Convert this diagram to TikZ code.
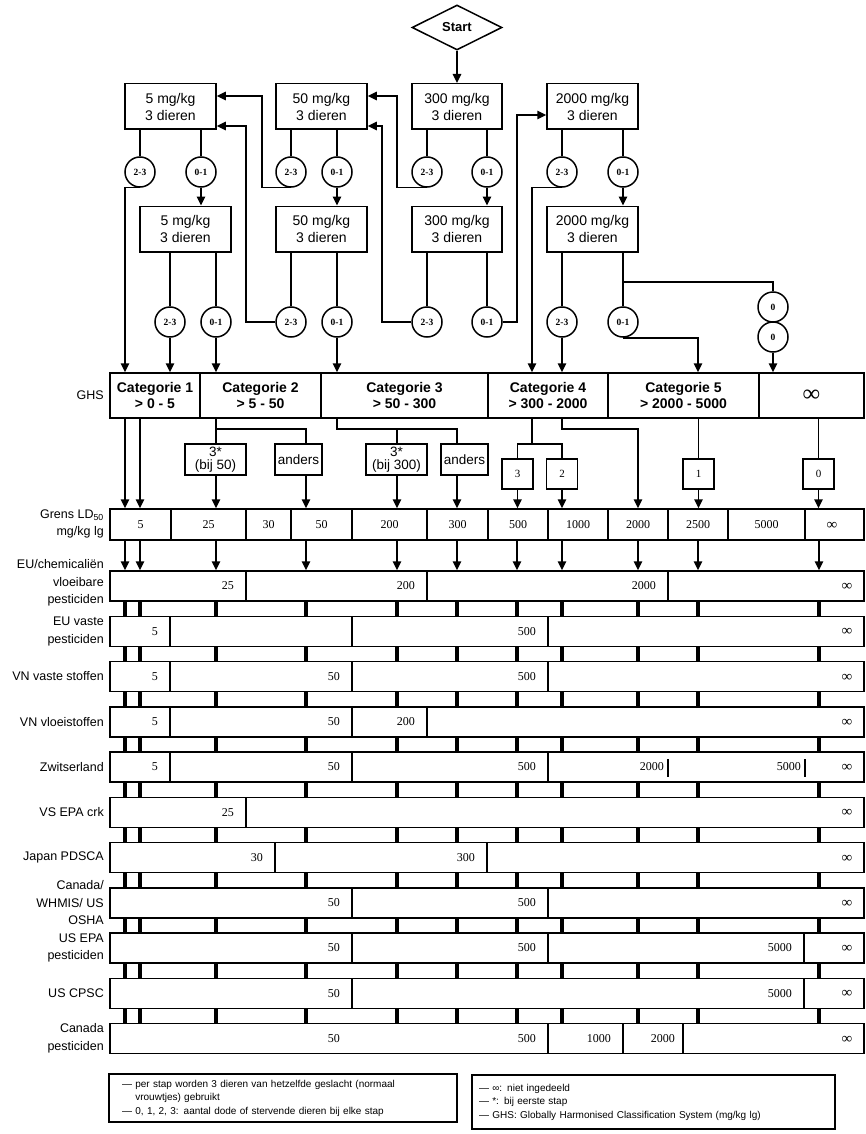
\documentclass[tikz,border=0pt]{standalone}
\usepackage{fontspec}
\setmainfont{Liberation Sans}
\newfontfamily\numfont{Liberation Serif}
\usetikzlibrary{arrows.meta,shapes.geometric}
\tikzset{
  ln/.style={line width=1.5pt},
  arr/.style={line width=1.5pt,-{Triangle[length=9pt,width=8.5pt]}},
  stepbox/.style={draw,line width=1.5pt,inner sep=0pt,align=center,minimum width=91pt,minimum height=45.5pt,font=\fontsize{14}{17}\selectfont},
  cnt/.style={draw,circle,line width=1.5pt,minimum size=30pt,inner sep=0pt,font=\numfont\bfseries\fontsize{9.5}{10}\selectfont},
  cat/.style={draw,line width=1.5pt,minimum height=45pt,inner sep=0pt,align=center,font=\bfseries\fontsize{14}{16.5}\selectfont},
  dbox/.style={draw,line width=1.5pt,minimum width=31pt,minimum height=30pt,inner sep=0pt,font=\numfont\fontsize{11}{11}\selectfont},
  qbox/.style={draw,line width=1.5pt,minimum height=31pt,inner sep=0pt,align=center,font=\fontsize{13.5}{13}\selectfont},
  lbl/.style={anchor=east,align=right,inner sep=0pt,font=\fontsize{12.5}{17.5}\selectfont},
  rowbox/.style={draw,line width=1.5pt,minimum width=754pt,minimum height=30pt,inner sep=0pt},
  nmb/.style={anchor=east,inner sep=0pt,font=\numfont\fontsize{12}{12}\selectfont},
  gnum/.style={inner sep=0pt,font=\numfont\fontsize{12}{12}\selectfont},
  inf/.style={inner sep=0pt,font=\numfont\fontsize{15}{15}\selectfont},
  rtick/.style={line width=3.8pt},
  legbox/.style={draw,line width=1.5pt,inner ysep=0pt,align=left,font=\fontsize{10}{13.5}\selectfont},
}
\newcommand\mkrow[4]{\node[rowbox] (#1) at (487,#2) {};\node[lbl] (#1l) at (104,#3) {#4};}
\newcommand\dvd[2]{\draw[ln] (#2,#1-15) -- (#2,#1+15);}
\newcommand\nm[4]{\node[nmb] (#1) at (#3-12,#2) {#4};}
\newcommand\infn[2]{\node[inf] (#1) at (847,#2) {∞};}
\begin{document}
\begin{tikzpicture}[x=1pt,y=-1pt]
\useasboundingbox (0,0) rectangle (866,1134);
\fill[white] (0,0) rectangle (866,1134);
\foreach \x in {125,140,170,216,246,262,306,337,382,397,457,517,532,562,623,638,698,773,819}
  \coordinate (x\x) at (\x,0);
\foreach \y in {96,115,126,282,429,444}
  \coordinate (y\y) at (0,\y);

% ---------- dose-step flow ----------
\node[draw,diamond,aspect=2,minimum width=90pt,minimum height=45pt,inner sep=0pt,line width=1.5pt,font=\bfseries\fontsize{13}{13}\selectfont] (start) at (457,27.5) {Start};

\node[stepbox] (A5) at (170.5,106.5) {5 mg/kg\\3 dieren};
\node[stepbox] (A50) at (321.5,106.5) {50 mg/kg\\3 dieren};
\node[stepbox,minimum width=90pt] (A300) at (457,106.5) {300 mg/kg\\3 dieren};
\node[stepbox] (A2000) at (592.5,106.5) {2000 mg/kg\\3 dieren};

\node[stepbox] (B5) at (185.5,229) {5 mg/kg\\3 dieren};
\node[stepbox] (B50) at (321.5,229) {50 mg/kg\\3 dieren};
\node[stepbox,minimum width=90pt] (B300) at (457,229) {300 mg/kg\\3 dieren};
\node[stepbox] (B2000) at (592.5,229) {2000 mg/kg\\3 dieren};

\node[cnt] (a5x) at (140,172) {2-3};
\node[cnt] (a5y) at (201,172) {0-1};
\node[cnt] (a50x) at (291,172) {2-3};
\node[cnt] (a50y) at (337,172) {0-1};
\node[cnt] (a300x) at (427,172) {2-3};
\node[cnt] (a300y) at (487,172) {0-1};
\node[cnt] (a2000x) at (562,172) {2-3};
\node[cnt] (a2000y) at (623,172) {0-1};

\node[cnt] (b5x) at (170,322) {2-3};
\node[cnt] (b5y) at (216,322) {0-1};
\node[cnt] (b50x) at (291,322) {2-3};
\node[cnt] (b50y) at (337,322) {0-1};
\node[cnt] (b300x) at (427,322) {2-3};
\node[cnt] (b300y) at (487,322) {0-1};
\node[cnt] (b2000x) at (562,322) {2-3};
\node[cnt] (b2000y) at (623,322) {0-1};
\node[cnt] (z1) at (773,307) {0};
\node[cnt] (z2) at (773,337) {0};

\draw[arr] (start.south) -- (A300.north);
\foreach \b/\c in {A5/a5x,A5/a5y,A50/a50x,A50/a50y,A300/a300x,A300/a300y,A2000/a2000x,A2000/a2000y,
                   B5/b5x,B5/b5y,B50/b50x,B50/b50y,B300/b300x,B300/b300y,B2000/b2000x,B2000/b2000y}
  \draw[ln] (\b.south -| \c) -- (\c.north);
\draw[arr] (a5y.south) -- (B5.north -| a5y);
\draw[arr] (a50y.south) -- (B50.north -| a50y);
\draw[arr] (a300y.south) -- (B300.north -| a300y);
\draw[arr] (a2000y.south) -- (B2000.north -| a2000y);

\draw[arr] (a50x.south) -| (x262 |- y96) -- (A5.east |- y96);
\draw[arr] (a300x.south) -| (x397 |- y96) -- (A50.east |- y96);
\draw[arr] (b50x.west) -| (x246 |- y126) -- (A5.east |- y126);
\draw[arr] (b300x.west) -| (x382 |- y126) -- (A50.east |- y126);
\draw[arr] (b300y.east) -| (x517 |- y115) -- (A2000.west |- y115);
\draw[ln] (x623 |- y282) -| (z1.north);

% ---------- GHS row ----------
\node[cat,minimum width=90pt] (G1) at (155,395.5) {Categorie 1\\> 0 - 5};
\node[cat,minimum width=121pt] (G2) at (260.5,395.5) {Categorie 2\\> 5 - 50};
\node[cat,minimum width=167pt] (G3) at (404.5,395.5) {Categorie 3\\> 50 - 300};
\node[cat,minimum width=120pt] (G4) at (548,395.5) {Categorie 4\\> 300 - 2000};
\node[cat,minimum width=151pt] (G5) at (683.5,395.5) {Categorie 5\\> 2000 - 5000};
\node[cat,minimum width=105pt,font=\numfont\bfseries\fontsize{24}{24}\selectfont] (G6) at (811.5,395.5) {∞};
\node[lbl] (ghsl) at (104,395) {GHS};

\draw[arr] (a5x.south) -| (G1.north -| x125);
\draw[arr] (b5x.south) -- (G1.north -| b5x);
\draw[arr] (b5y.south) -- (G2.north -| b5y);
\draw[arr] (b50y.south) -- (G3.north -| b50y);
\draw[arr] (a2000x.south) -| (G4.north -| x532);
\draw[arr] (b2000x.south) -- (G4.north -| b2000x);
\draw[arr] (b2000y.south) -| (G5.north -| x698);
\draw[arr] (z2.south) -- (G6.north -| z2);

% ---------- intermediate boxes ----------
\node[qbox,minimum width=61pt] (Q1) at (215.5,459.5) {3*\\(bij 50)};
\node[qbox,minimum width=47pt] (N1) at (298.5,459.5) {anders};
\node[qbox,minimum width=61pt] (Q2) at (396.5,459.5) {3*\\(bij 300)};
\node[qbox,minimum width=47pt] (N2) at (464.5,459.5) {anders};
\node[dbox] (S3) at (517.5,474) {3};
\node[dbox] (S2) at (562,474) {2};
\node[dbox] (S1) at (698.5,474) {1};
\node[dbox] (S0) at (818.5,474) {0};

% ---------- Grens row ----------
\node[rowbox,minimum height=31pt] (grens) at (487,524.5) {};
\foreach \x in {171,246,291,352,427,488,548,608,668,728,805}
  \draw[ln] (\x,509) -- (\x,540);
\node[gnum] (g1) at (140.5,524.5) {5};
\node[gnum] (g2) at (208.5,524.5) {25};
\node[gnum] (g3) at (268.5,524.5) {30};
\node[gnum] (g4) at (321.5,524.5) {50};
\node[gnum] (g5) at (389.5,524.5) {200};
\node[gnum] (g6) at (457.5,524.5) {300};
\node[gnum] (g7) at (518,524.5) {500};
\node[gnum] (g8) at (578,524.5) {1000};
\node[gnum] (g9) at (638,524.5) {2000};
\node[gnum] (g10) at (698,524.5) {2500};
\node[gnum] (g11) at (766.5,524.5) {5000};
\node[inf] (g12) at (832,526) {∞};
\node[lbl] (grensl) at (104,524) {Grens LD\textsubscript{50}\\mg/kg lg};

\draw[arr] (G1.south -| x125) -- (grens.north -| x125);
\draw[arr] (G1.south -| x140) -- (grens.north -| x140);
\draw[ln] (G2.south -| x216) -- (Q1.north -| x216);
\draw[ln] (x216 |- y429) -| (N1.north -| x306);
\draw[arr] (Q1.south -| x216) -- (grens.north -| x216);
\draw[arr] (N1.south -| x306) -- (grens.north -| x306);
\draw[ln] (G3.south -| x337) |- (x457 |- y429) -- (N2.north -| x457);
\draw[ln] (x397 |- y429) -- (Q2.north -| x397);
\draw[arr] (Q2.south -| x397) -- (grens.north -| x397);
\draw[arr] (N2.south -| x457) -- (grens.north -| x457);
\draw[ln] (G4.south -| x532) -- (x532 |- y444);
\draw[ln] (S3.north) |- (x532 |- y444) -| (S2.north);
\draw[arr] (S3.south) -- (grens.north -| S3);
\draw[arr] (S2.south) -- (grens.north -| S2);
\draw[arr] (G4.south -| x562) |- (x638 |- y429) -- (grens.north -| x638);
\draw[ln] (G5.south -| S1) -- (S1.north);
\draw[arr] (S1.south) -- (grens.north -| S1);
\draw[ln] (G6.south -| S0) -- (S0.north);
\draw[arr] (S0.south) -- (grens.north -| S0);

% ---------- regulation rows ----------
\mkrow{r1}{586}{583}{EU/chemicaliën\\vloeibare\\pesticiden}
\dvd{586}{246}\dvd{586}{427}\dvd{586}{668}
\nm{r1a}{586}{246}{25}\nm{r1b}{586}{427}{200}\nm{r1c}{586}{668}{2000}\infn{r1i}{587}

\mkrow{r2}{631.25}{631.25}{EU vaste\\pesticiden}
\dvd{631.25}{170}\dvd{631.25}{352}\dvd{631.25}{548}
\nm{r2a}{631.25}{170}{5}\nm{r2b}{631.25}{548}{500}\infn{r2i}{632.25}

\mkrow{r3}{676.5}{676.5}{VN vaste stoffen}
\dvd{676.5}{170}\dvd{676.5}{352}\dvd{676.5}{548}
\nm{r3a}{676.5}{170}{5}\nm{r3b}{676.5}{352}{50}\nm{r3c}{676.5}{548}{500}\infn{r3i}{677.5}

\mkrow{r4}{721.75}{721.75}{VN vloeistoffen}
\dvd{721.75}{170}\dvd{721.75}{352}\dvd{721.75}{427}
\nm{r4a}{721.75}{170}{5}\nm{r4b}{721.75}{352}{50}\nm{r4c}{721.75}{427}{200}\infn{r4i}{722.75}

\mkrow{r5}{767}{767}{Zwitserland}
\dvd{767}{170}\dvd{767}{352}\dvd{767}{548}
\draw[ln] (668,759) -- (668,777);
\draw[ln] (805,759) -- (805,777);
\nm{r5a}{767}{170}{5}\nm{r5b}{767}{352}{50}\nm{r5c}{767}{548}{500}
\nm{r5d}{767}{676}{2000}\nm{r5e}{767}{813}{5000}\infn{r5i}{768}

\mkrow{r6}{812.25}{812.25}{VS EPA crk}
\dvd{812.25}{246}
\nm{r6a}{812.25}{246}{25}\infn{r6i}{813.25}

\mkrow{r7}{857.5}{857.5}{Japan PDSCA}
\dvd{857.5}{275}\dvd{857.5}{487}
\nm{r7a}{857.5}{275}{30}\nm{r7b}{857.5}{487}{300}\infn{r7i}{858.5}

\mkrow{r8}{902.75}{902.75}{Canada/\\WHMIS/ US\\OSHA}
\dvd{902.75}{352}\dvd{902.75}{548}
\nm{r8a}{902.75}{352}{50}\nm{r8b}{902.75}{548}{500}\infn{r8i}{903.75}

\mkrow{r9}{948}{948}{US EPA\\pesticiden}
\dvd{948}{352}\dvd{948}{548}\dvd{948}{804}
\nm{r9a}{948}{352}{50}\nm{r9b}{948}{548}{500}\nm{r9c}{948}{804}{5000}\infn{r9i}{949}

\mkrow{r10}{993.25}{993.25}{US CPSC}
\dvd{993.25}{352}\dvd{993.25}{804}
\nm{r10a}{993.25}{352}{50}\nm{r10b}{993.25}{804}{5000}\infn{r10i}{994.25}

\mkrow{r11}{1038.5}{1038.5}{Canada\\pesticiden}
\dvd{1038.5}{548}\dvd{1038.5}{623}\dvd{1038.5}{683}
\nm{r11a}{1038.5}{352}{50}\nm{r11b}{1038.5}{548}{500}\nm{r11c}{1038.5}{623}{1000}
\nm{r11d}{1038.5}{687}{2000}\infn{r11i}{1039.5}

\foreach \x in {125,140,216,306,397,457,517,562,638,698,819}
  \draw[arr] (grens.south -| x\x) -- (r1.north -| x\x);
\foreach \a/\b in {r1/r2,r2/r3,r3/r4,r4/r5,r5/r6,r6/r7,r7/r8,r8/r9,r9/r10,r10/r11}
  \foreach \x in {125,140,216,306,397,457,517,562,638,698,819}
    \draw[rtick] (\a.south -| x\x) -- (\b.north -| x\x);

% ---------- legends ----------
\node[legbox,inner xsep=13pt,text width=322pt,minimum height=48pt] (leg1) at (283,1098)
  {— per stap worden 3 dieren van hetzelfde geslacht (normaal\\\phantom{—\ }vrouwtjes) gebruikt\\— 0, 1, 2, 3: aantal dode of stervende dieren bij elke stap};
\node[legbox,inner xsep=7pt,text width=349pt,minimum height=54pt] (leg2) at (653.5,1102)
  {— ∞: niet ingedeeld\\— *: bij eerste stap\\— GHS: Globally Harmonised Classification System (mg/kg lg)};
\end{tikzpicture}
\end{document}
